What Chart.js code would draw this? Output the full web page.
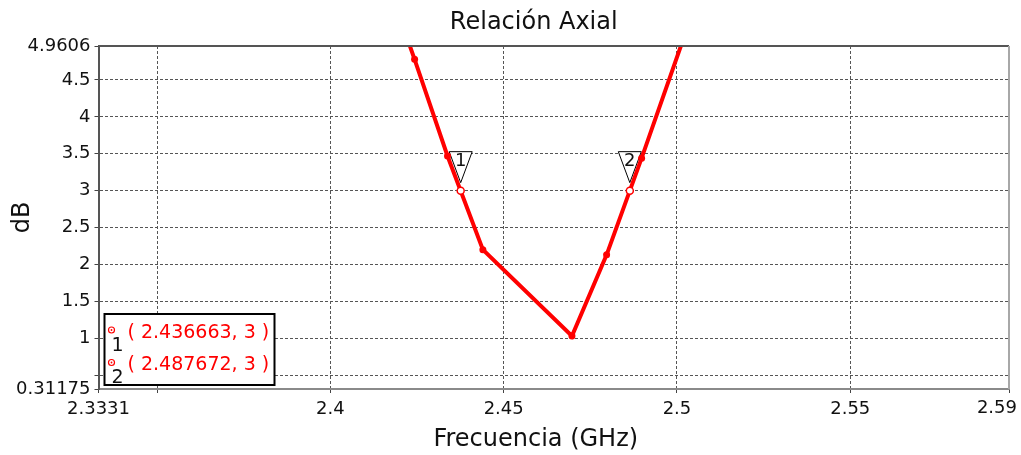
<!DOCTYPE html>
<html><head><meta charset="utf-8">
<script src="https://cdn.jsdelivr.net/npm/chart.js@4.4.1/dist/chart.umd.min.js"></script>
<style>html,body{margin:0;padding:0;background:#fff;overflow:hidden}#wrap{width:1021px;height:455px;}</style>
</head><body><div id="wrap"><canvas id="c" width="1021" height="455"></canvas></div>
<script>
const freqGHz = [2.418, 2.4243, 2.4338, 2.444, 2.4697, 2.4797, 2.4898, 2.505];
const axialRatioDB = [5.62, 4.78, 3.47, 2.20, 1.03, 2.13, 3.44, 5.48];
const markerIds = ['1', '2'];
const markerFreq = [2.4376, 2.4864];
const markerValue = [3, 3];
const markerLabels = ['( 2.436663, 3 )', '( 2.487672, 3 )'];
const xTickValues = [2.3331, 2.35, 2.4, 2.45, 2.5, 2.55, 2.5958];
const xTickLabels = ['2.3331', '', '2.4', '2.45', '2.5', '2.55', '2.59'];
const yTickValues = [0.31175, 0.5, 1, 1.5, 2, 2.5, 3, 3.5, 4, 4.5, 4.9606];
const yTickLabels = ['0.31175', '', '1', '1.5', '2', '2.5', '3', '3.5', '4', '4.5', '4.9606'];
const chartTitle = 'Relación Axial';
const xTitle = 'Frecuencia (GHz)';
const yTitle = 'dB';

const FONT = "'DejaVu Sans', Verdana, sans-serif";
Chart.defaults.font.family = FONT;

const decor = {
  id: 'decor',
  beforeDatasetsDraw(chart) {
    const {ctx, scales: {x, y}} = chart;
    markerFreq.forEach((f, i) => {
      const px = x.getPixelForValue(f), py = y.getPixelForValue(markerValue[i]);
      const apexY = py - 8, topY = py - 39, hw = 11.5;
      ctx.save();
      ctx.beginPath();
      ctx.moveTo(px - hw, topY); ctx.lineTo(px + hw, topY); ctx.lineTo(px, apexY); ctx.closePath();
      ctx.fillStyle = '#fff'; ctx.fill();
      ctx.strokeStyle = '#000'; ctx.lineWidth = 1; ctx.stroke();
      ctx.fillStyle = '#111'; ctx.font = '18px ' + FONT;
      ctx.textAlign = 'center'; ctx.textBaseline = 'middle';
      ctx.fillText(markerIds[i], px, topY + 10);
      ctx.restore();
    });
  },
  afterDatasetsDraw(chart) {
    const {ctx, chartArea: a, scales: {x, y}} = chart;
    ctx.save();
    markerFreq.forEach((f, i) => {
      const px = x.getPixelForValue(f), py = y.getPixelForValue(markerValue[i]);
      ctx.beginPath(); ctx.arc(px, py, 3.5, 0, Math.PI * 2);
      ctx.fillStyle = '#fff'; ctx.fill();
      ctx.strokeStyle = '#ff0000'; ctx.lineWidth = 1.5; ctx.stroke();
    });
    ctx.strokeStyle = '#555'; ctx.lineWidth = 2;
    ctx.beginPath(); ctx.moveTo(a.left, a.top); ctx.lineTo(a.right, a.top); ctx.stroke();
    ctx.strokeStyle = '#a8a8a8';
    ctx.beginPath(); ctx.moveTo(a.right, a.top); ctx.lineTo(a.right, a.bottom); ctx.stroke();
    const bx = a.left + 6, bw = 170, bh = 71, by = a.bottom - 4 - bh;
    ctx.fillStyle = '#fff'; ctx.fillRect(bx, by, bw, bh);
    ctx.strokeStyle = '#000'; ctx.lineWidth = 2; ctx.strokeRect(bx, by, bw, bh);
    markerLabels.forEach((t, i) => {
      const rowY = by + 18 + i * 32.5;
      ctx.beginPath(); ctx.arc(bx + 7, rowY - 2, 3, 0, Math.PI * 2);
      ctx.strokeStyle = '#ff0000'; ctx.lineWidth = 1.2; ctx.stroke();
      ctx.beginPath(); ctx.arc(bx + 7, rowY - 2, 0.9, 0, Math.PI * 2);
      ctx.fillStyle = '#ff0000'; ctx.fill();
      ctx.fillStyle = '#111'; ctx.font = '19px ' + FONT;
      ctx.textAlign = 'center'; ctx.textBaseline = 'middle';
      ctx.fillText(markerIds[i], bx + 13, rowY + 14);
      ctx.fillStyle = '#ff0000'; ctx.font = '19px ' + FONT;
      ctx.textAlign = 'left';
      ctx.fillText(t, bx + 23, rowY + 1);
    });
    const cx = (a.left + a.right) / 2 - 20;
    ctx.fillStyle = '#111'; ctx.textAlign = 'center'; ctx.textBaseline = 'middle';
    ctx.font = '24px ' + FONT;
    ctx.fillText(chartTitle, cx, a.top - 23);
    ctx.fillText(xTitle, cx + 2, a.bottom + 51);
    ctx.font = '18px ' + FONT; ctx.textAlign = 'right'; ctx.textBaseline = 'top';
    ctx.fillText(xTickLabels[xTickLabels.length - 1], chart.width - 4, a.bottom + 10);
    ctx.restore();
  }
};

new Chart(document.getElementById('c'), {
  type: 'line',
  data: {
    datasets: [{
      data: freqGHz.map((f, i) => ({x: f, y: axialRatioDB[i]})),
      borderColor: '#ff0000', backgroundColor: '#ff0000',
      borderWidth: 4, pointRadius: 3.5, pointHoverRadius: 3.5,
      pointBorderWidth: 0, tension: 0, clip: 0
    }]
  },
  options: {
    responsive: false, animation: false, events: [],
    layout: {padding: {top: 46, right: 12, left: 0, bottom: 0}},
    plugins: {legend: {display: false}, tooltip: {enabled: false}, title: {display: false}},
    scales: {
      x: {
        type: 'linear', min: xTickValues[0], max: xTickValues[xTickValues.length - 1],
        afterBuildTicks: s => { s.ticks = xTickValues.map(v => ({value: v})); },
        afterFit: s => { s.height = 66; s.paddingRight = 0; },
        ticks: {autoSkip: false, maxRotation: 0, padding: 6, color: '#111', font: {size: 18},
          callback: (v, i) => (i === xTickLabels.length - 1 ? '' : xTickLabels[i])},
        grid: {color: '#555', lineWidth: 1, tickLength: 4, tickColor: '#444'},
        border: {display: true, color: '#8a8a8a', width: 2, dash: [3, 2]}
      },
      y: {
        type: 'linear', min: yTickValues[0], max: yTickValues[yTickValues.length - 1],
        afterBuildTicks: s => { s.ticks = yTickValues.map(v => ({value: v})); },
        afterFit: s => { s.width = 98.5; },
        ticks: {autoSkip: false, padding: 4, color: '#111', font: {size: 18},
          callback: (v, i) => yTickLabels[i]},
        grid: {color: '#555', lineWidth: 1, tickLength: 4, tickColor: '#444'},
        border: {display: true, color: '#555', width: 2, dash: [3, 2]},
        title: {display: true, text: yTitle, color: '#111', font: {size: 24}, padding: {top: 8, bottom: 0}}
      }
    }
  },
  plugins: [decor]
});
</script></body></html>
